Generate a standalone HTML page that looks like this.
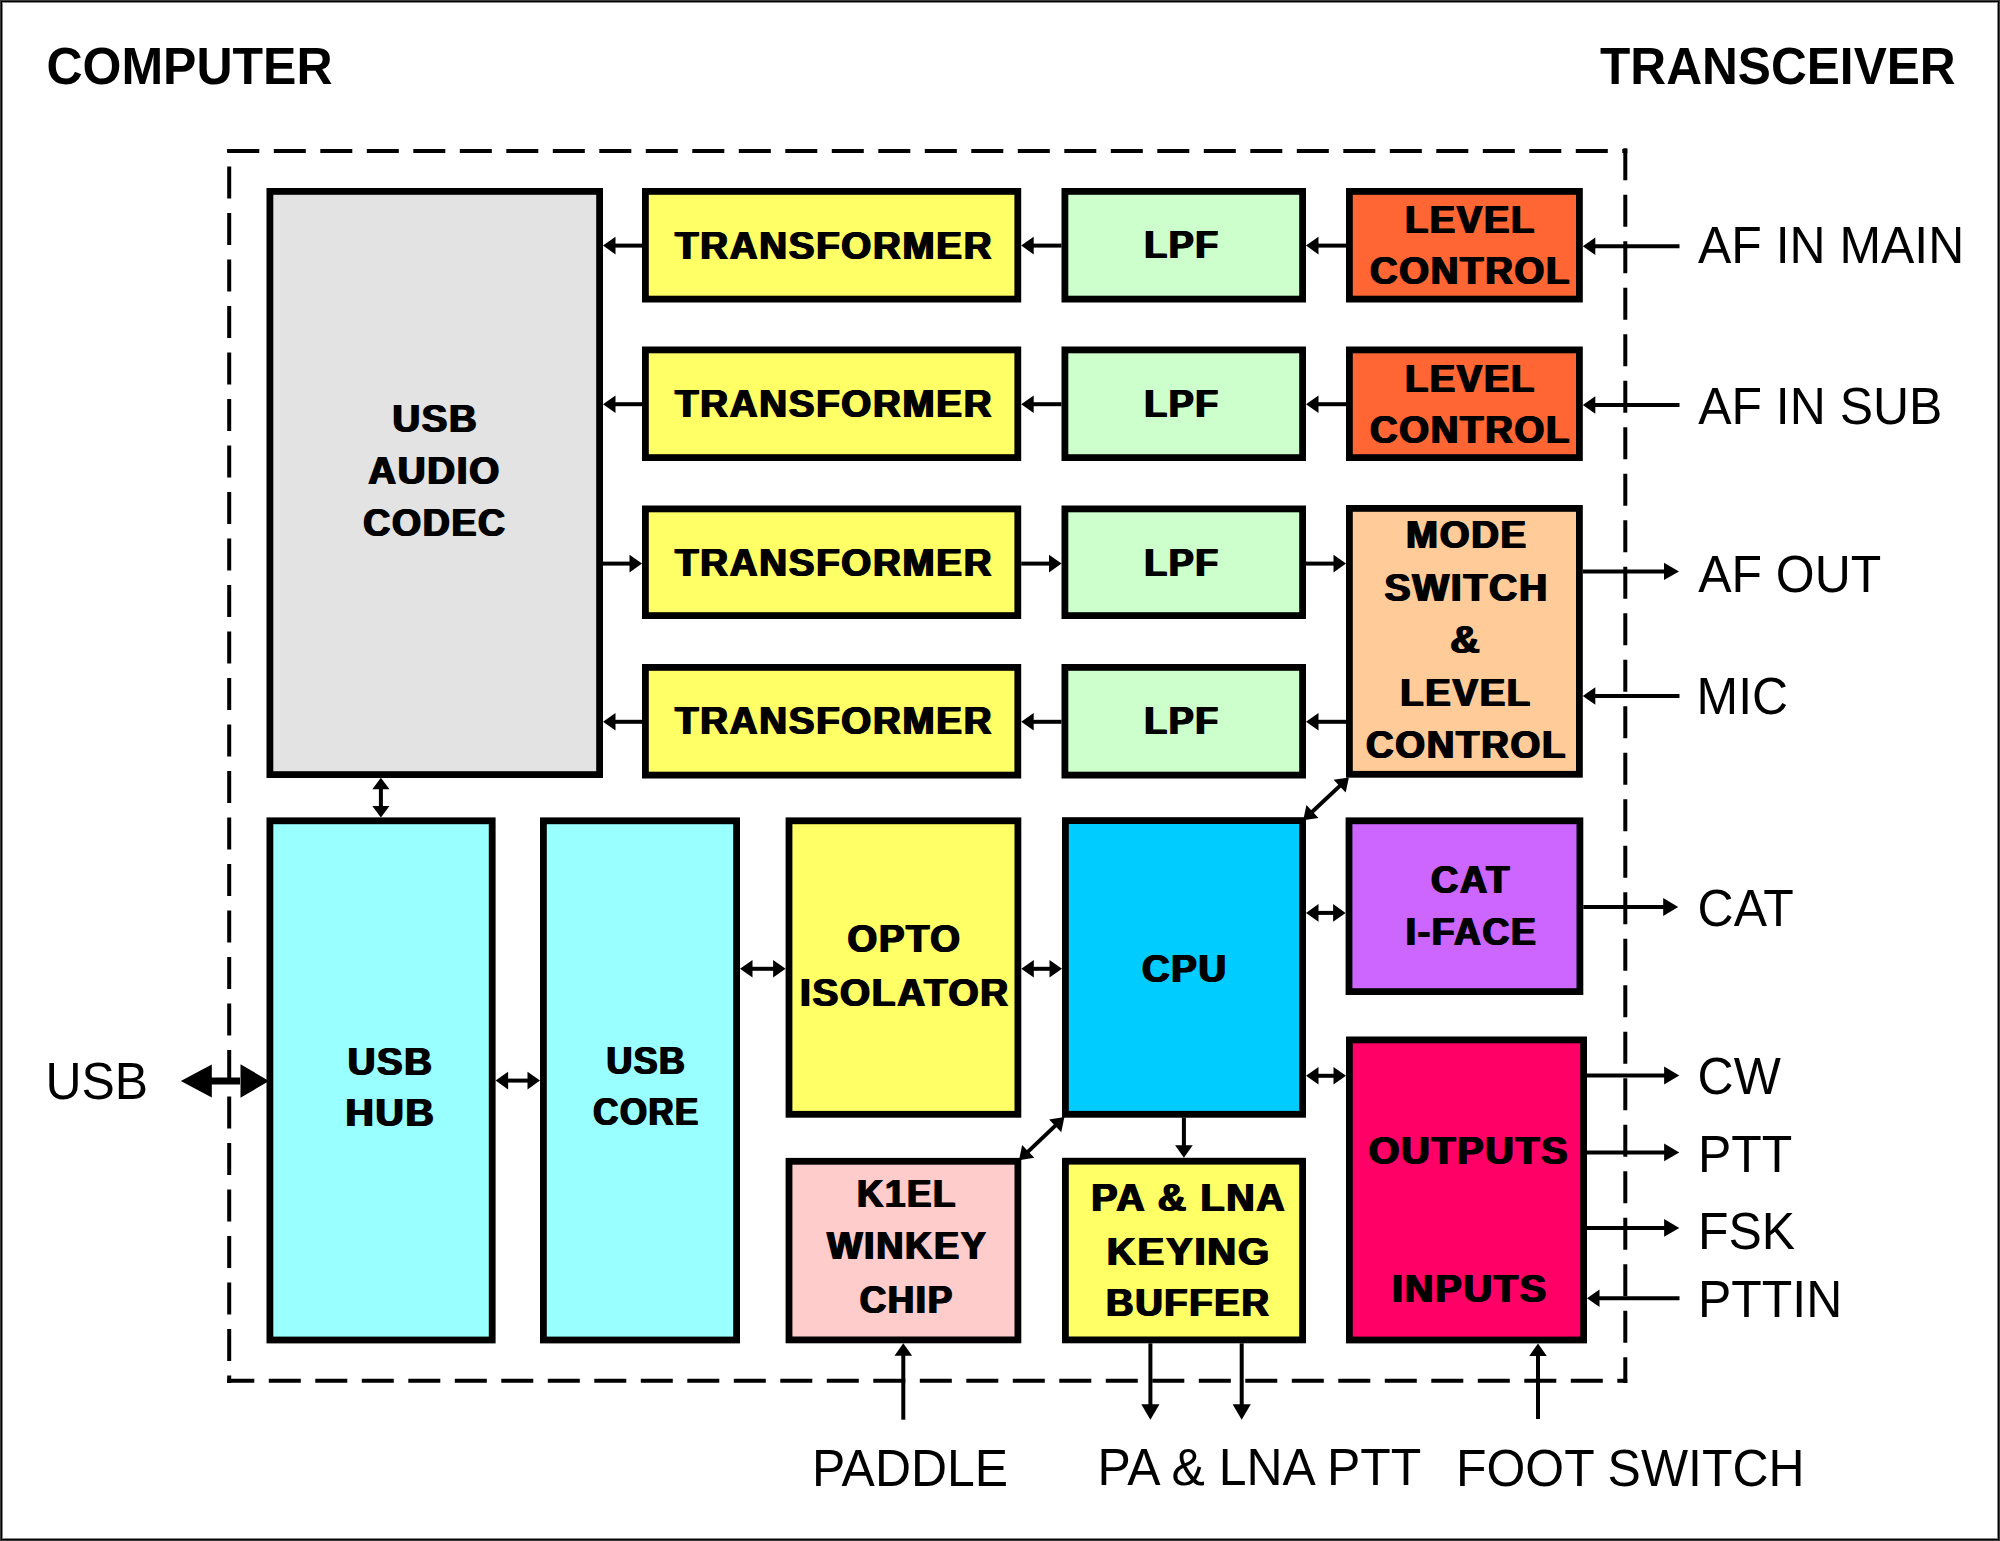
<!DOCTYPE html>
<html><head><meta charset="utf-8"><style>
html,body{margin:0;padding:0;background:#fff;}
svg{display:block;}
.b,.b2{font-family:"Liberation Sans",sans-serif;font-weight:bold;font-size:38.5px;letter-spacing:1.7px;text-anchor:middle;fill:#000;}
.b2{letter-spacing:2.6px;}
.r{font-family:"Liberation Sans",sans-serif;font-weight:normal;font-size:52px;fill:#000;}
.t{font-family:"Liberation Sans",sans-serif;font-weight:bold;font-size:51.8px;fill:#000;}
</style></head><body>
<svg width="2000" height="1541" viewBox="0 0 2000 1541">
<rect x="0" y="0" width="2000" height="1541" fill="#fff"/>
<rect x="0.5" y="0.5" width="1999" height="1540" fill="none" stroke="#3b3b3b" stroke-width="1"/>
<rect x="1.5" y="1.5" width="1997" height="1538" fill="none" stroke="#000" stroke-width="1"/>
<rect x="2.5" y="2.5" width="1995" height="1536" fill="none" stroke="#888" stroke-width="1"/>
<path d="M227.3,151 H1627.3" fill="none" stroke="#000" stroke-width="4" stroke-dasharray="32 14.5" stroke-dashoffset="0"/>
<path d="M1625.3,148.3 V1383" fill="none" stroke="#000" stroke-width="4" stroke-dasharray="32 14.5" stroke-dashoffset="0"/>
<path d="M1627.3,1380.7 H227.2" fill="none" stroke="#000" stroke-width="4" stroke-dasharray="32 14.5" stroke-dashoffset="22"/>
<path d="M229.2,1383 V149" fill="none" stroke="#000" stroke-width="4" stroke-dasharray="32 14.5" stroke-dashoffset="24.5"/>
<rect x="269.9" y="191.4" width="329.70" height="583.20" fill="#e3e3e3" stroke="#000" stroke-width="6.8"/>
<rect x="645.4" y="191.4" width="372.40" height="107.70" fill="#ffff66" stroke="#000" stroke-width="6.8"/>
<rect x="645.4" y="349.9" width="372.40" height="107.70" fill="#ffff66" stroke="#000" stroke-width="6.8"/>
<rect x="645.4" y="508.9" width="372.40" height="106.70" fill="#ffff66" stroke="#000" stroke-width="6.8"/>
<rect x="645.4" y="667.4" width="372.40" height="107.70" fill="#ffff66" stroke="#000" stroke-width="6.8"/>
<rect x="1064.9" y="191.4" width="237.70" height="107.70" fill="#ccffcc" stroke="#000" stroke-width="6.8"/>
<rect x="1064.9" y="349.9" width="237.70" height="107.70" fill="#ccffcc" stroke="#000" stroke-width="6.8"/>
<rect x="1064.9" y="508.9" width="237.70" height="106.70" fill="#ccffcc" stroke="#000" stroke-width="6.8"/>
<rect x="1064.9" y="667.4" width="237.70" height="107.70" fill="#ccffcc" stroke="#000" stroke-width="6.8"/>
<rect x="1349.4" y="191.4" width="230.00" height="107.70" fill="#ff6633" stroke="#000" stroke-width="6.8"/>
<rect x="1349.4" y="349.9" width="230.00" height="107.70" fill="#ff6633" stroke="#000" stroke-width="6.8"/>
<rect x="1349.4" y="508.4" width="230.00" height="265.90" fill="#ffcc99" stroke="#000" stroke-width="6.8"/>
<rect x="269.9" y="820.8" width="222.30" height="519.20" fill="#99ffff" stroke="#000" stroke-width="6.8"/>
<rect x="543.4" y="820.8" width="193.20" height="519.20" fill="#99ffff" stroke="#000" stroke-width="6.8"/>
<rect x="789.0" y="820.8" width="228.90" height="293.50" fill="#ffff66" stroke="#000" stroke-width="6.8"/>
<rect x="1065.4" y="820.6" width="237.20" height="293.70" fill="#00ccff" stroke="#000" stroke-width="6.8"/>
<rect x="1349.0" y="820.8" width="230.90" height="170.80" fill="#cc66ff" stroke="#000" stroke-width="6.8"/>
<rect x="1349.4" y="1039.9" width="234.20" height="300.10" fill="#ff0066" stroke="#000" stroke-width="6.8"/>
<rect x="789.0" y="1161.3000000000002" width="228.90" height="178.60" fill="#ffcccc" stroke="#000" stroke-width="6.8"/>
<rect x="1065.4" y="1161.2" width="237.20" height="178.70" fill="#ffff66" stroke="#000" stroke-width="6.8"/>
<line x1="642.00" y1="245.60" x2="614.50" y2="245.60" stroke="#000" stroke-width="4.0"/><polygon points="603.00,245.60 615.50,236.80 615.50,254.40"/>
<line x1="1061.50" y1="245.60" x2="1032.70" y2="245.60" stroke="#000" stroke-width="4.0"/><polygon points="1021.20,245.60 1033.70,236.80 1033.70,254.40"/>
<line x1="1346.00" y1="245.60" x2="1317.50" y2="245.60" stroke="#000" stroke-width="4.0"/><polygon points="1306.00,245.60 1318.50,236.80 1318.50,254.40"/>
<line x1="642.00" y1="404.20" x2="614.50" y2="404.20" stroke="#000" stroke-width="4.0"/><polygon points="603.00,404.20 615.50,395.40 615.50,413.00"/>
<line x1="1061.50" y1="404.20" x2="1032.70" y2="404.20" stroke="#000" stroke-width="4.0"/><polygon points="1021.20,404.20 1033.70,395.40 1033.70,413.00"/>
<line x1="1346.00" y1="404.20" x2="1317.50" y2="404.20" stroke="#000" stroke-width="4.0"/><polygon points="1306.00,404.20 1318.50,395.40 1318.50,413.00"/>
<line x1="603.00" y1="563.60" x2="630.50" y2="563.60" stroke="#000" stroke-width="4.0"/><polygon points="642.00,563.60 629.50,572.40 629.50,554.80"/>
<line x1="1021.20" y1="563.60" x2="1050.00" y2="563.60" stroke="#000" stroke-width="4.0"/><polygon points="1061.50,563.60 1049.00,572.40 1049.00,554.80"/>
<line x1="1306.00" y1="563.60" x2="1334.50" y2="563.60" stroke="#000" stroke-width="4.0"/><polygon points="1346.00,563.60 1333.50,572.40 1333.50,554.80"/>
<line x1="642.00" y1="721.80" x2="614.50" y2="721.80" stroke="#000" stroke-width="4.0"/><polygon points="603.00,721.80 615.50,713.00 615.50,730.60"/>
<line x1="1061.50" y1="721.80" x2="1032.70" y2="721.80" stroke="#000" stroke-width="4.0"/><polygon points="1021.20,721.80 1033.70,713.00 1033.70,730.60"/>
<line x1="1346.00" y1="721.80" x2="1317.50" y2="721.80" stroke="#000" stroke-width="4.0"/><polygon points="1306.00,721.80 1318.50,713.00 1318.50,730.60"/>
<line x1="1679.50" y1="246.30" x2="1594.30" y2="246.30" stroke="#000" stroke-width="4.0"/><polygon points="1582.80,246.30 1595.30,237.50 1595.30,255.10"/>
<line x1="1679.50" y1="405.00" x2="1594.30" y2="405.00" stroke="#000" stroke-width="4.0"/><polygon points="1582.80,405.00 1595.30,396.20 1595.30,413.80"/>
<line x1="1582.80" y1="571.40" x2="1665.00" y2="571.40" stroke="#000" stroke-width="4.0"/><polygon points="1679.00,571.40 1664.00,580.10 1664.00,562.70"/>
<line x1="1679.50" y1="696.00" x2="1594.30" y2="696.00" stroke="#000" stroke-width="4.0"/><polygon points="1582.80,696.00 1595.30,687.20 1595.30,704.80"/>
<line x1="380.90" y1="788.20" x2="380.90" y2="807.10" stroke="#000" stroke-width="4.0"/><polygon points="380.90,817.60 372.30,806.10 389.50,806.10"/><polygon points="380.90,777.70 389.50,789.20 372.30,789.20"/>
<line x1="507.10" y1="1080.60" x2="528.50" y2="1080.60" stroke="#000" stroke-width="4.0"/><polygon points="540.00,1080.60 527.50,1089.40 527.50,1071.80"/><polygon points="495.60,1080.60 508.10,1071.80 508.10,1089.40"/>
<line x1="751.50" y1="968.80" x2="774.10" y2="968.80" stroke="#000" stroke-width="4.0"/><polygon points="785.60,968.80 773.10,977.60 773.10,960.00"/><polygon points="740.00,968.80 752.50,960.00 752.50,977.60"/>
<line x1="1032.80" y1="968.80" x2="1050.50" y2="968.80" stroke="#000" stroke-width="4.0"/><polygon points="1062.00,968.80 1049.50,977.60 1049.50,960.00"/><polygon points="1021.30,968.80 1033.80,960.00 1033.80,977.60"/>
<line x1="1317.50" y1="912.90" x2="1334.10" y2="912.90" stroke="#000" stroke-width="4.0"/><polygon points="1345.60,912.90 1333.10,921.70 1333.10,904.10"/><polygon points="1306.00,912.90 1318.50,904.10 1318.50,921.70"/>
<line x1="1317.50" y1="1075.80" x2="1334.50" y2="1075.80" stroke="#000" stroke-width="4.0"/><polygon points="1346.00,1075.80 1333.50,1084.60 1333.50,1067.00"/><polygon points="1306.00,1075.80 1318.50,1067.00 1318.50,1084.60"/>
<line x1="1183.90" y1="1117.50" x2="1183.90" y2="1146.30" stroke="#000" stroke-width="4.0"/><polygon points="1183.90,1157.80 1175.10,1145.30 1192.70,1145.30"/>
<line x1="1311.74" y1="812.20" x2="1340.36" y2="785.40" stroke="#000" stroke-width="4.0"/><polygon points="1348.90,777.40 1345.65,792.50 1333.62,779.66"/><polygon points="1303.20,820.20 1306.45,805.10 1318.48,817.94"/>
<line x1="1055.91" y1="1125.16" x2="1027.49" y2="1152.14" stroke="#000" stroke-width="4.0"/><polygon points="1019.00,1160.20 1022.15,1145.07 1034.27,1157.84"/><polygon points="1064.40,1117.10 1061.25,1132.23 1049.13,1119.46"/>
<line x1="1583.30" y1="906.90" x2="1664.20" y2="906.90" stroke="#000" stroke-width="4.0"/><polygon points="1678.20,906.90 1663.20,915.90 1663.20,897.90"/>
<line x1="1587.00" y1="1075.50" x2="1665.10" y2="1075.50" stroke="#000" stroke-width="4.0"/><polygon points="1679.30,1075.50 1664.10,1084.40 1664.10,1066.60"/>
<line x1="1587.00" y1="1152.40" x2="1665.10" y2="1152.40" stroke="#000" stroke-width="4.0"/><polygon points="1679.30,1152.40 1664.10,1161.30 1664.10,1143.50"/>
<line x1="1587.00" y1="1227.90" x2="1665.10" y2="1227.90" stroke="#000" stroke-width="4.0"/><polygon points="1679.30,1227.90 1664.10,1236.80 1664.10,1219.00"/>
<line x1="1679.50" y1="1298.20" x2="1598.50" y2="1298.20" stroke="#000" stroke-width="4.0"/><polygon points="1587.00,1298.20 1599.50,1289.40 1599.50,1307.00"/>
<line x1="903.30" y1="1419.70" x2="903.30" y2="1354.80" stroke="#000" stroke-width="4.0"/><polygon points="903.30,1343.30 912.10,1355.80 894.50,1355.80"/>
<line x1="1150.40" y1="1343.30" x2="1150.40" y2="1405.30" stroke="#000" stroke-width="4.0"/><polygon points="1150.40,1419.70 1141.30,1404.30 1159.50,1404.30"/>
<line x1="1241.70" y1="1343.30" x2="1241.70" y2="1405.30" stroke="#000" stroke-width="4.0"/><polygon points="1241.70,1419.70 1232.60,1404.30 1250.80,1404.30"/>
<line x1="1538.00" y1="1419.00" x2="1538.00" y2="1354.90" stroke="#000" stroke-width="4.0"/><polygon points="1538.00,1343.40 1546.80,1355.90 1529.20,1355.90"/>
<line x1="210.80" y1="1081.00" x2="240.00" y2="1081.00" stroke="#000" stroke-width="7"/><polygon points="180.80,1081.00 211.80,1064.50 211.80,1097.50"/>
<polygon points="269.00,1081.00 240.50,1097.80 240.50,1064.20"/>
<text transform="translate(434.30,432.00) scale(0.9938,1)" class="b">USB</text>
<text transform="translate(435.30,432.00) scale(0.9938,1)" class="b">USB</text>
<text transform="translate(436.30,432.00) scale(0.9938,1)" class="b">USB</text>
<text transform="translate(433.50,484.00) scale(1.0000,1)" class="b">AUDIO</text>
<text transform="translate(434.50,484.00) scale(1.0000,1)" class="b">AUDIO</text>
<text transform="translate(435.50,484.00) scale(1.0000,1)" class="b">AUDIO</text>
<text transform="translate(434.00,536.00) scale(0.9720,1)" class="b">CODEC</text>
<text transform="translate(435.00,536.00) scale(0.9720,1)" class="b">CODEC</text>
<text transform="translate(436.00,536.00) scale(0.9720,1)" class="b">CODEC</text>
<text transform="translate(833.10,259.20) scale(1.0000,1)" class="b">TRANSFORMER</text>
<text transform="translate(834.10,259.20) scale(1.0000,1)" class="b">TRANSFORMER</text>
<text transform="translate(835.10,259.20) scale(1.0000,1)" class="b">TRANSFORMER</text>
<text transform="translate(833.10,417.20) scale(1.0000,1)" class="b">TRANSFORMER</text>
<text transform="translate(834.10,417.20) scale(1.0000,1)" class="b">TRANSFORMER</text>
<text transform="translate(835.10,417.20) scale(1.0000,1)" class="b">TRANSFORMER</text>
<text transform="translate(833.10,576.20) scale(1.0000,1)" class="b">TRANSFORMER</text>
<text transform="translate(834.10,576.20) scale(1.0000,1)" class="b">TRANSFORMER</text>
<text transform="translate(835.10,576.20) scale(1.0000,1)" class="b">TRANSFORMER</text>
<text transform="translate(833.10,734.00) scale(1.0000,1)" class="b">TRANSFORMER</text>
<text transform="translate(834.10,734.00) scale(1.0000,1)" class="b">TRANSFORMER</text>
<text transform="translate(835.10,734.00) scale(1.0000,1)" class="b">TRANSFORMER</text>
<text transform="translate(1181.00,258.40) scale(0.9722,1)" class="b">LPF</text>
<text transform="translate(1182.00,258.40) scale(0.9722,1)" class="b">LPF</text>
<text transform="translate(1183.00,258.40) scale(0.9722,1)" class="b">LPF</text>
<text transform="translate(1181.00,417.00) scale(0.9722,1)" class="b">LPF</text>
<text transform="translate(1182.00,417.00) scale(0.9722,1)" class="b">LPF</text>
<text transform="translate(1183.00,417.00) scale(0.9722,1)" class="b">LPF</text>
<text transform="translate(1181.00,576.00) scale(0.9722,1)" class="b">LPF</text>
<text transform="translate(1182.00,576.00) scale(0.9722,1)" class="b">LPF</text>
<text transform="translate(1183.00,576.00) scale(0.9722,1)" class="b">LPF</text>
<text transform="translate(1181.00,734.00) scale(0.9722,1)" class="b">LPF</text>
<text transform="translate(1182.00,734.00) scale(0.9722,1)" class="b">LPF</text>
<text transform="translate(1183.00,734.00) scale(0.9722,1)" class="b">LPF</text>
<text transform="translate(1469.40,233.00) scale(0.9883,1)" class="b">LEVEL</text>
<text transform="translate(1470.40,233.00) scale(0.9883,1)" class="b">LEVEL</text>
<text transform="translate(1471.40,233.00) scale(0.9883,1)" class="b">LEVEL</text>
<text transform="translate(1469.50,284.40) scale(0.9949,1)" class="b">CONTROL</text>
<text transform="translate(1470.50,284.40) scale(0.9949,1)" class="b">CONTROL</text>
<text transform="translate(1471.50,284.40) scale(0.9949,1)" class="b">CONTROL</text>
<text transform="translate(1469.40,392.00) scale(0.9883,1)" class="b">LEVEL</text>
<text transform="translate(1470.40,392.00) scale(0.9883,1)" class="b">LEVEL</text>
<text transform="translate(1471.40,392.00) scale(0.9883,1)" class="b">LEVEL</text>
<text transform="translate(1469.50,443.40) scale(0.9949,1)" class="b">CONTROL</text>
<text transform="translate(1470.50,443.40) scale(0.9949,1)" class="b">CONTROL</text>
<text transform="translate(1471.50,443.40) scale(0.9949,1)" class="b">CONTROL</text>
<text transform="translate(1465.90,547.80) scale(0.9959,1)" class="b">MODE</text>
<text transform="translate(1466.90,547.80) scale(0.9959,1)" class="b">MODE</text>
<text transform="translate(1467.90,547.80) scale(0.9959,1)" class="b">MODE</text>
<text transform="translate(1465.70,601.00) scale(1.0162,1)" class="b">SWITCH</text>
<text transform="translate(1466.70,601.00) scale(1.0162,1)" class="b">SWITCH</text>
<text transform="translate(1467.70,601.00) scale(1.0162,1)" class="b">SWITCH</text>
<text transform="translate(1464.90,652.60) scale(1.0613,1)" class="b">&amp;</text>
<text transform="translate(1465.90,652.60) scale(1.0613,1)" class="b">&amp;</text>
<text transform="translate(1466.90,652.60) scale(1.0613,1)" class="b">&amp;</text>
<text transform="translate(1465.10,705.60) scale(0.9921,1)" class="b">LEVEL</text>
<text transform="translate(1466.10,705.60) scale(0.9921,1)" class="b">LEVEL</text>
<text transform="translate(1467.10,705.60) scale(0.9921,1)" class="b">LEVEL</text>
<text transform="translate(1465.50,758.00) scale(0.9949,1)" class="b">CONTROL</text>
<text transform="translate(1466.50,758.00) scale(0.9949,1)" class="b">CONTROL</text>
<text transform="translate(1467.50,758.00) scale(0.9949,1)" class="b">CONTROL</text>
<text transform="translate(389.70,1074.80) scale(0.9938,1)" class="b">USB</text>
<text transform="translate(390.70,1074.80) scale(0.9938,1)" class="b">USB</text>
<text transform="translate(391.70,1074.80) scale(0.9938,1)" class="b">USB</text>
<text transform="translate(389.60,1126.40) scale(1.0181,1)" class="b">HUB</text>
<text transform="translate(390.60,1126.40) scale(1.0181,1)" class="b">HUB</text>
<text transform="translate(391.60,1126.40) scale(1.0181,1)" class="b">HUB</text>
<text transform="translate(645.40,1073.60) scale(0.9261,1)" class="b">USB</text>
<text transform="translate(646.40,1073.60) scale(0.9261,1)" class="b">USB</text>
<text transform="translate(647.40,1073.60) scale(0.9261,1)" class="b">USB</text>
<text transform="translate(645.50,1125.20) scale(0.9027,1)" class="b">CORE</text>
<text transform="translate(646.50,1125.20) scale(0.9027,1)" class="b">CORE</text>
<text transform="translate(647.50,1125.20) scale(0.9027,1)" class="b">CORE</text>
<text transform="translate(903.60,952.40) scale(0.9909,1)" class="b">OPTO</text>
<text transform="translate(904.60,952.40) scale(0.9909,1)" class="b">OPTO</text>
<text transform="translate(905.60,952.40) scale(0.9909,1)" class="b">OPTO</text>
<text transform="translate(904.00,1005.80) scale(1.0048,1)" class="b">ISOLATOR</text>
<text transform="translate(905.00,1005.80) scale(1.0048,1)" class="b">ISOLATOR</text>
<text transform="translate(906.00,1005.80) scale(1.0048,1)" class="b">ISOLATOR</text>
<text transform="translate(1183.80,981.80) scale(0.9939,1)" class="b">CPU</text>
<text transform="translate(1184.80,981.80) scale(0.9939,1)" class="b">CPU</text>
<text transform="translate(1185.80,981.80) scale(0.9939,1)" class="b">CPU</text>
<text transform="translate(1470.00,893.00) scale(0.9808,1)" class="b">CAT</text>
<text transform="translate(1471.00,893.00) scale(0.9808,1)" class="b">CAT</text>
<text transform="translate(1472.00,893.00) scale(0.9808,1)" class="b">CAT</text>
<text transform="translate(1470.50,945.00) scale(0.9657,1)" class="b">I-FACE</text>
<text transform="translate(1471.50,945.00) scale(0.9657,1)" class="b">I-FACE</text>
<text transform="translate(1472.50,945.00) scale(0.9657,1)" class="b">I-FACE</text>
<text transform="translate(1468.00,1164.20) scale(1.0236,1)" class="b">OUTPUTS</text>
<text transform="translate(1469.00,1164.20) scale(1.0236,1)" class="b">OUTPUTS</text>
<text transform="translate(1470.00,1164.20) scale(1.0236,1)" class="b">OUTPUTS</text>
<text transform="translate(1469.00,1302.40) scale(1.0308,1)" class="b">INPUTS</text>
<text transform="translate(1470.00,1302.40) scale(1.0308,1)" class="b">INPUTS</text>
<text transform="translate(1471.00,1302.40) scale(1.0308,1)" class="b">INPUTS</text>
<text transform="translate(905.90,1207.40) scale(0.9500,1)" class="b">K1EL</text>
<text transform="translate(906.90,1207.40) scale(0.9500,1)" class="b">K1EL</text>
<text transform="translate(907.90,1207.40) scale(0.9500,1)" class="b">K1EL</text>
<text transform="translate(906.20,1259.40) scale(0.9783,1)" class="b">WINKEY</text>
<text transform="translate(907.20,1259.40) scale(0.9783,1)" class="b">WINKEY</text>
<text transform="translate(908.20,1259.40) scale(0.9783,1)" class="b">WINKEY</text>
<text transform="translate(905.70,1312.80) scale(0.9529,1)" class="b">CHIP</text>
<text transform="translate(906.70,1312.80) scale(0.9529,1)" class="b">CHIP</text>
<text transform="translate(907.70,1312.80) scale(0.9529,1)" class="b">CHIP</text>
<text transform="translate(1187.90,1211.40) scale(1.0214,1)" class="b">PA &amp; LNA</text>
<text transform="translate(1188.90,1211.40) scale(1.0214,1)" class="b">PA &amp; LNA</text>
<text transform="translate(1189.90,1211.40) scale(1.0214,1)" class="b">PA &amp; LNA</text>
<text transform="translate(1187.80,1265.00) scale(1.0399,1)" class="b">KEYING</text>
<text transform="translate(1188.80,1265.00) scale(1.0399,1)" class="b">KEYING</text>
<text transform="translate(1189.80,1265.00) scale(1.0399,1)" class="b">KEYING</text>
<text transform="translate(1187.30,1316.40) scale(0.9907,1)" class="b">BUFFER</text>
<text transform="translate(1188.30,1316.40) scale(0.9907,1)" class="b">BUFFER</text>
<text transform="translate(1189.30,1316.40) scale(0.9907,1)" class="b">BUFFER</text>
<text transform="translate(1698.00,263.40) scale(0.96,1)" class="r">AF IN MAIN</text>
<text transform="translate(1698.20,423.60) scale(0.96,1)" class="r">AF IN SUB</text>
<text transform="translate(1698.20,592.20) scale(0.96,1)" class="r">AF OUT</text>
<text transform="translate(1696.60,714.40) scale(0.96,1)" class="r">MIC</text>
<text transform="translate(1697.60,925.80) scale(0.96,1)" class="r">CAT</text>
<text transform="translate(1697.60,1094.40) scale(0.96,1)" class="r">CW</text>
<text transform="translate(1698.00,1172.00) scale(0.96,1)" class="r">PTT</text>
<text transform="translate(1698.00,1248.60) scale(0.96,1)" class="r">FSK</text>
<text transform="translate(1698.00,1316.60) scale(0.96,1)" class="r">PTTIN</text>
<text transform="translate(812.00,1485.60) scale(0.96,1)" class="r">PADDLE</text>
<text transform="translate(1097.60,1485.40) scale(0.96,1)" class="r">PA &amp; LNA PTT</text>
<text transform="translate(1456.00,1486.00) scale(0.96,1)" class="r">FOOT SWITCH</text>
<text transform="translate(45.40,1099.20) scale(0.96,1)" class="r">USB</text>
<text transform="translate(46.40,84.40) scale(0.9656,1)" class="t">COMPUTER</text>
<text transform="translate(1600.00,84.40) scale(0.9581,1)" class="t">TRANSCEIVER</text>
</svg>
</body></html>
